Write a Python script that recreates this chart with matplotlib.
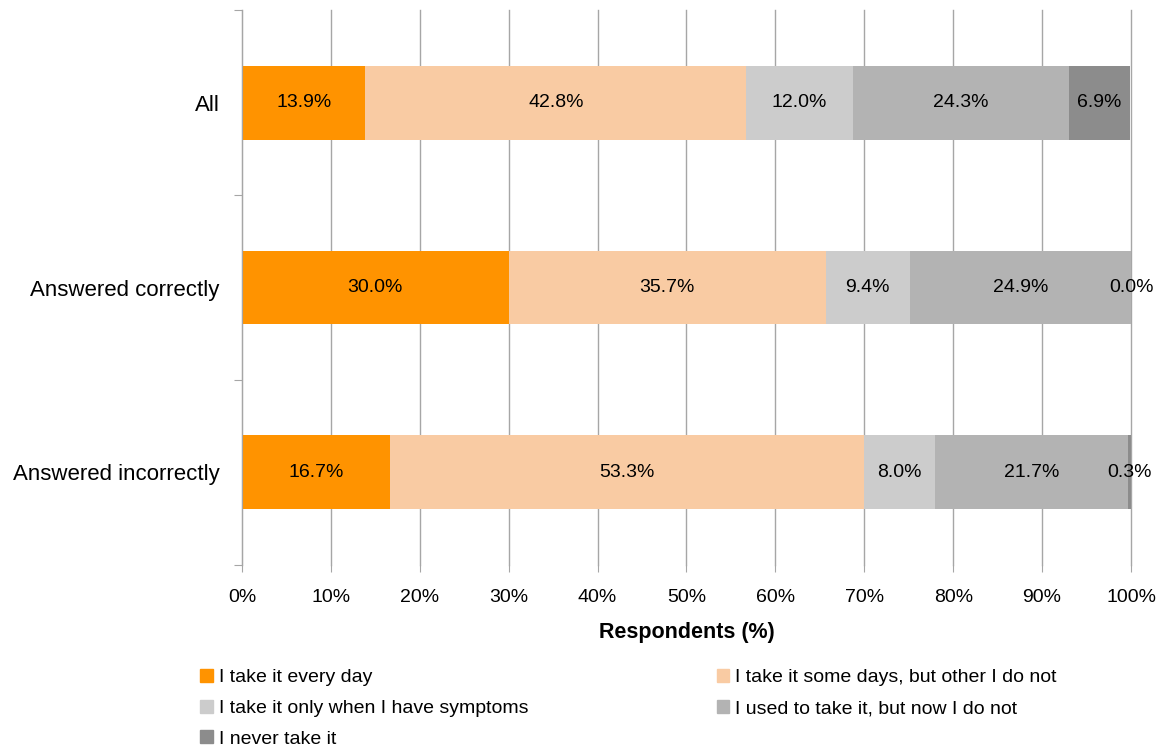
import matplotlib
matplotlib.use("Agg")
import matplotlib.pyplot as plt
from matplotlib.patches import Patch

plt.rcParams["font.family"] = ["Liberation Sans", "DejaVu Sans"]

groups = ["All", "Answered correctly", "Answered incorrectly"]
answers = ["I take it every day", "I take it some days, but other I do not",
           "I take it only when I have symptoms", "I used to take it, but now I do not",
           "I never take it"]
every_day = [13.9, 30.0, 16.7]
some_days = [42.8, 35.7, 53.3]
symptoms = [12.0, 9.4, 8.0]
used_to = [24.3, 24.9, 21.7]
never = [6.9, 0.0, 0.3]
series = [every_day, some_days, symptoms, used_to, never]
colors = ["#FF9300", "#F9CBA3", "#CCCCCC", "#B3B3B3", "#8C8C8C"]
grid_col = "#A6A6A6"

fig = plt.figure(figsize=(11.63, 7.49), dpi=100)
ax = fig.add_axes([0.208, 0.2457, 0.7645, 0.7409])

ypos = list(range(len(groups)))
left = [0.0] * len(groups)
for vals, col in zip(series, colors):
    ax.barh(ypos, vals, left=left, height=0.4, color=col, zorder=2)
    for y, v, l in zip(ypos, vals, left):
        ax.text(l + v / 2, y, f"{v:.1f}%", ha="center", va="center", fontsize=14, zorder=3)
    left = [l + v for l, v in zip(left, vals)]

ax.set_xlim(0, 100)
ax.set_ylim(2.5, -0.5)
ax.set_xticks(range(0, 101, 10))
ax.set_xticklabels([f"{t}%" for t in range(0, 101, 10)], fontsize=14)
ax.set_yticks([-0.5, 0.5, 1.5, 2.5])
ax.set_yticklabels([])
ax.set_yticks(ypos, minor=True)
ax.set_yticklabels(groups, minor=True, fontsize=16)
ax.tick_params(axis="y", which="major", length=6, color=grid_col)
ax.tick_params(axis="y", which="minor", length=0, pad=16)
ax.tick_params(axis="x", length=5, color=grid_col, pad=12)
ax.grid(axis="x", color=grid_col, linewidth=1, zorder=0)
for gl in ax.xaxis.get_gridlines():
    gl.set_clip_on(False)
for s in ["top", "right", "bottom"]:
    ax.spines[s].set_visible(False)
ax.spines["left"].set_color(grid_col)
ax.set_xlabel("Respondents (%)", fontsize=15.5, fontweight="bold", labelpad=12)

handles = [Patch(color=c) for c in colors]
order = [0, 2, 4, 1, 3]
fig.legend([handles[i] for i in order], [answers[i] for i in order],
           loc="upper left", bbox_to_anchor=(0.1655, 0.117), ncol=2, frameon=False,
           fontsize=14, handlelength=0.65, handleheight=0.65, handletextpad=0.3,
           columnspacing=9.7, labelspacing=0.68, borderaxespad=0)

fig.savefig("out.png", dpi=100)
